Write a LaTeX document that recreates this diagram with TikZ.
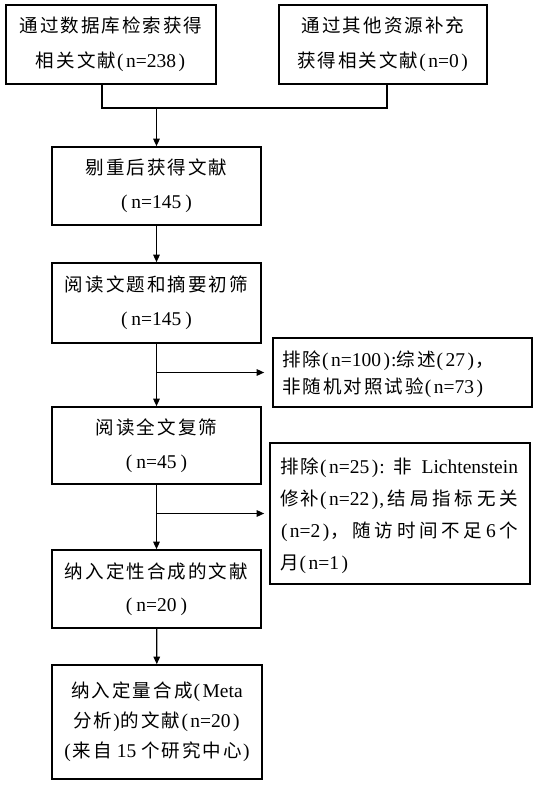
\documentclass[tikz,border=0pt]{standalone}
\usepackage{fontspec}
\setmainfont{Liberation Serif}
\newfontfamily\cjk[Scale=0.95,LetterSpace=11]{Noto Sans CJK SC}
\newcommand\C[1]{{\cjk #1}}
\newcommand\pn[1]{\kern1bp(\kern2.5bp#1\kern2.5bp)\kern1bp}
\newcommand\jline[1]{\leavevmode\hbox to 238bp{#1}}
\usetikzlibrary{arrows.meta}
\begin{document}
\begin{tikzpicture}[x=1bp,y=-1bp,
  box/.style={draw, line width=1.6bp, inner sep=0pt, align=center,
    execute at begin node={\rule{0pt}{20bp}}},
  link/.style={line width=1.3bp},
  arr/.style={link, -{Triangle[length=7.5bp,width=6.5bp]}}]
\useasboundingbox (0,0) rectangle (539,794);
\node[box, minimum width=210bp, minimum height=79bp, font=\fontsize{19.5bp}{35bp}\selectfont] (top1) at (111,44.5)
  {\C{通过数据库检索获得}\\\C{相关文献}\pn{n=238}};
\node[box, minimum width=208bp, minimum height=79bp, font=\fontsize{19.5bp}{35bp}\selectfont] (top2) at (383,44.5)
  {\C{通过其他资源补充}\\\C{获得相关文献}\pn{n=0}};
\node[box, minimum width=209bp, minimum height=78bp, font=\fontsize{19.5bp}{34bp}\selectfont] (b2) at (156.5,186)
  {\C{剔重后获得文献}\\(\kern4bp n=145\kern4bp)};
\node[box, minimum width=209bp, minimum height=80bp, font=\fontsize{19.5bp}{34bp}\selectfont] (b3) at (156.5,303)
  {\C{阅读文题和摘要初筛}\\(\kern4bp n=145\kern4bp)};
\node[box, minimum width=209bp, minimum height=77bp, font=\fontsize{19.5bp}{34bp}\selectfont] (b4) at (156.5,445.5)
  {\C{阅读全文复筛}\\(\kern4bp n=45\kern4bp)};
\node[box, minimum width=209bp, minimum height=78bp, font=\fontsize{19.5bp}{33bp}\selectfont] (b5) at (156.5,589)
  {\C{纳入定性合成的文献}\\(\kern4bp n=20\kern4bp)};
\node[box, minimum width=210bp, minimum height=114bp, font=\fontsize{19.5bp}{30bp}\selectfont] (b6) at (157,722)
  {\C{纳入定量合成}\kern1bp(\kern2.5bp Meta\\\C{分析}\kern1bp)\kern1bp\C{的文献}\pn{n=20}\\(\kern2bp\C{来自} 15 \C{个研究中心}\kern1bp)};
\node[box, minimum width=259bp, minimum height=69bp, align=left, text width=241bp, font=\fontsize{19.5bp}{27bp}\selectfont] (e1) at (402.5,372.5)
  {\C{排除}\pn{n=100}:\C{综述}\pn{27}\C{，}\\\C{非随机对照试验}\pn{n=73}};
\node[box, minimum width=260bp, minimum height=141bp, align=left, text width=240bp, font=\fontsize{19.5bp}{32bp}\selectfont] (e2) at (400,513.5)
  {\jline{\C{排除}\pn{n=25}:\hfil\C{非}\hfil Lichtenstein}\\
   \jline{\C{修补}\pn{n=22},\hfil\C{结}\hfil\C{局}\hfil\C{指}\hfil\C{标}\hfil\C{无}\hfil\C{关}}\\
   \jline{\pn{n=2}\C{，}\hfil\C{随}\hfil\C{访}\hfil\C{时}\hfil\C{间}\hfil\C{不}\hfil\C{足}\hfil 6\hfil\C{个}}\\
   \C{月}\pn{n=1}};
\coordinate (jl) at (102,108);
\coordinate (jr) at (387,108);
\coordinate (jm) at (156.5,108);
\draw[link] (top1.south -| jl) -- (jl) -- (jr) -- (top2.south -| jr);
\draw[arr] (jm) -- (b2.north);
\draw[arr] (b2) -- (b3);
\draw[arr] (b3) -- (b4);
\draw[arr] (b4) -- (b5);
\draw[arr] (b5) -- (b6);
\draw[arr, shorten >=8bp] (b3.south |- e1.west) -- (e1.west);
\draw[arr, shorten >=5bp] (b4.south |- e2.west) -- (e2.west);
\end{tikzpicture}
\end{document}
